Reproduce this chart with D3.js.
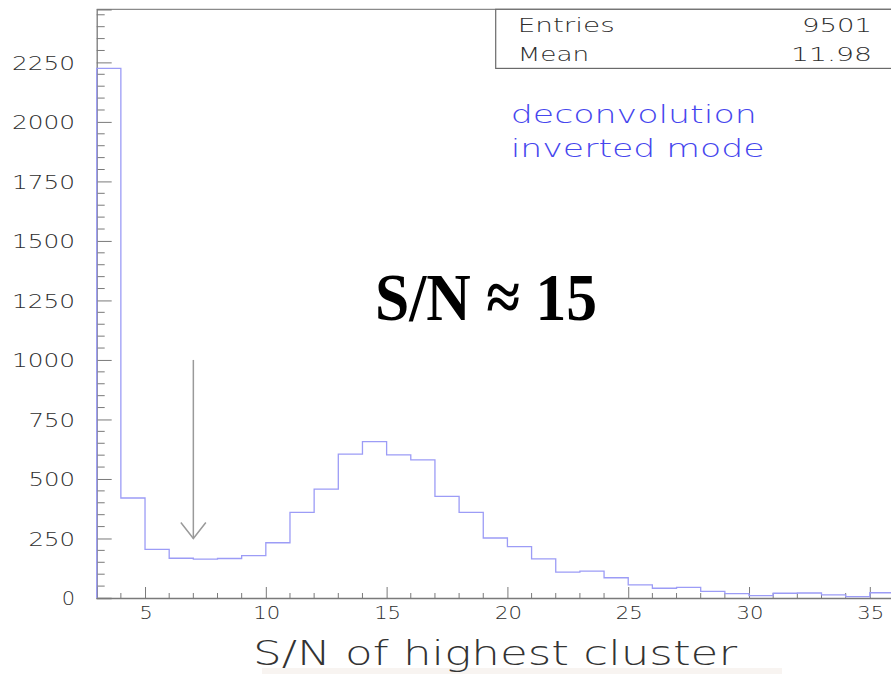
<!DOCTYPE html>
<html>
<head>
<meta charset="utf-8">
<script src="https://cdn.jsdelivr.net/npm/d3@7"></script>
<style>
  html, body { margin: 0; padding: 0; background: #fff; }
  svg { display: block; }
</style>
</head>
<body>
<svg id="chart" width="891" height="674"></svg>
<script>
// Histogram of the S/N of the highest cluster (bin width 1, starting at 3)
const binStart = 3;
const binWidth = 1;
const counts = [2225, 420, 204, 167, 163, 166, 178, 232, 360, 457, 604, 657, 601, 580,
                427, 360, 252, 216, 164, 109, 113, 85, 55, 41, 45, 28, 18, 10, 20, 21,
                13, 6, 22];
const xTickValues = [5, 10, 15, 20, 25, 30, 35];
const yTickValues = [0, 250, 500, 750, 1000, 1250, 1500, 1750, 2000, 2250];
const statsLabels = ["Entries", "Mean"];
const statsValues = ["9501", "11.98"];
const noteLines = ["deconvolution", "inverted mode"];
const arrowFrom = 1000, arrowTo = 250, arrowAt = 7;

(function draw() {
  const svg = d3.select("#chart");
  const W = 891;
  const plotLeft = 96.7, plotBottom = 598, plotTop = 9.3;

  const x = d3.scaleLinear().domain([3, 36]).range([plotLeft, plotLeft + 33 * 24.16]);
  const y = d3.scaleLinear().domain([0, 2473]).range([plotBottom, plotTop]);

  const axisColor = "#7a7a7a";
  const textColor = "#2e2e2e";
  const sans = "'DejaVu Sans', sans-serif";

  // wide, thin, evenly stretched lettering
  function wideText(g, str, px, py, size, width, anchor, color) {
    return g.append("text")
      .attr("x", px).attr("y", py)
      .attr("text-anchor", anchor || "start")
      .attr("font-family", sans).attr("font-size", size).attr("font-weight", 200)
      .attr("textLength", width).attr("lengthAdjust", "spacingAndGlyphs")
      .attr("fill", color || textColor)
      .text(str);
  }

  // faint strip under the axis title
  svg.append("rect").attr("x", 262).attr("y", 668).attr("width", 520).attr("height", 6)
    .attr("fill", "#f4ece7").attr("opacity", 0.6);

  // frame top
  svg.append("line").attr("x1", plotLeft).attr("x2", W + 5).attr("y1", plotTop).attr("y2", plotTop)
    .attr("stroke", "#8a8a8a").attr("stroke-width", 1.2);

  // Y axis with inward ticks
  const yAxis = d3.axisRight(y).tickValues(yTickValues).tickSize(15).tickFormat("");
  const gy = svg.append("g").attr("transform", `translate(${plotLeft},0)`).call(yAxis);
  gy.select(".domain").attr("stroke", axisColor).attr("stroke-width", 1.3);
  gy.selectAll(".tick line").attr("stroke", axisColor);
  const yMinor = d3.range(50, 2473, 50).filter(v => v % 250 !== 0);
  gy.selectAll(".minor").data(yMinor).enter().append("line")
    .attr("x1", 0).attr("x2", 8).attr("y1", d => y(d)).attr("y2", d => y(d))
    .attr("stroke", axisColor);
  const gyl = svg.append("g");
  yTickValues.forEach(v => {
    const s = String(v);
    wideText(gyl, s, 75, y(v) + 7.3, 19.2, 16.6 * s.length - 3.3, "end");
  });

  // X axis with inward ticks
  const xAxis = d3.axisTop(x).tickValues(xTickValues).tickSize(11).tickFormat("");
  const gx = svg.append("g").attr("transform", `translate(0,${plotBottom})`).call(xAxis);
  gx.select(".domain").attr("stroke", axisColor).attr("stroke-width", 1.3);
  gx.selectAll(".tick line").attr("stroke", axisColor);
  const xMinor = d3.range(4, 37, 1).filter(v => v % 5 !== 0);
  gx.selectAll(".minor").data(xMinor).enter().append("line")
    .attr("x1", d => x(d)).attr("x2", d => x(d)).attr("y1", 0).attr("y2", -5)
    .attr("stroke", axisColor);
  const gxl = svg.append("g");
  xTickValues.forEach(v => {
    const s = String(v);
    wideText(gxl, s, x(v) + 1, 619.3, 17.4, 13.7 * s.length - 0.5, "middle");
  });

  // axis title
  wideText(svg, "S/N of highest cluster", 253, 665, 34, 484, "start", "#333");

  // histogram outline (step line)
  const pts = [[binStart, 0]];
  counts.forEach((c, i) => {
    const x0 = binStart + i * binWidth;
    pts.push([x0, c], [x0 + binWidth, c]);
  });
  svg.append("path")
    .attr("d", d3.line().x(d => x(d[0])).y(d => y(d[1]))(pts))
    .attr("fill", "none").attr("stroke", "#9c9cf6").attr("stroke-width", 1.3);

  // arrow marking the cut
  const ax = x(arrowAt), ay0 = y(arrowFrom), ay1 = y(arrowTo);
  const arrow = svg.append("g").attr("stroke", "#9a9a9a").attr("stroke-width", 1.5).attr("fill", "none");
  arrow.append("line").attr("x1", ax).attr("x2", ax).attr("y1", ay0).attr("y2", ay1);
  arrow.append("path").attr("d", `M${ax - 12.5},${ay1 - 16} L${ax},${ay1} L${ax + 12.5},${ay1 - 16}`);

  // statistics box
  svg.append("rect").attr("x", 495.7).attr("y", plotTop).attr("width", 420).attr("height", 68.4 - plotTop)
    .attr("fill", "#fff").attr("stroke", "#6a6a6a").attr("stroke-width", 1.2);
  const labelWidths = [97, 71.6];
  const valueWidths = [70, 81];
  statsLabels.forEach((t, i) => {
    const by = 31.7 + i * 29.3;
    wideText(svg, t, 517.7, by, 19.6, labelWidths[i], "start");
    wideText(svg, statsValues[i], 872, by, 19.6, valueWidths[i], "end");
  });

  // mode annotation
  const noteWidths = [246, 254];
  noteLines.forEach((t, i) => {
    wideText(svg, t, 510.7, 123 + i * 33.7, 25, noteWidths[i], "start", "#4646ee");
  });

  // headline
  svg.append("text").attr("x", 375).attr("y", 320)
    .attr("font-family", "'Liberation Serif', 'Times New Roman', serif")
    .attr("font-size", 68).attr("font-weight", "bold")
    .attr("textLength", 222).attr("lengthAdjust", "spacingAndGlyphs")
    .attr("fill", "#000")
    .text("S/N ≈ 15");
})();
</script>
</body>
</html>
